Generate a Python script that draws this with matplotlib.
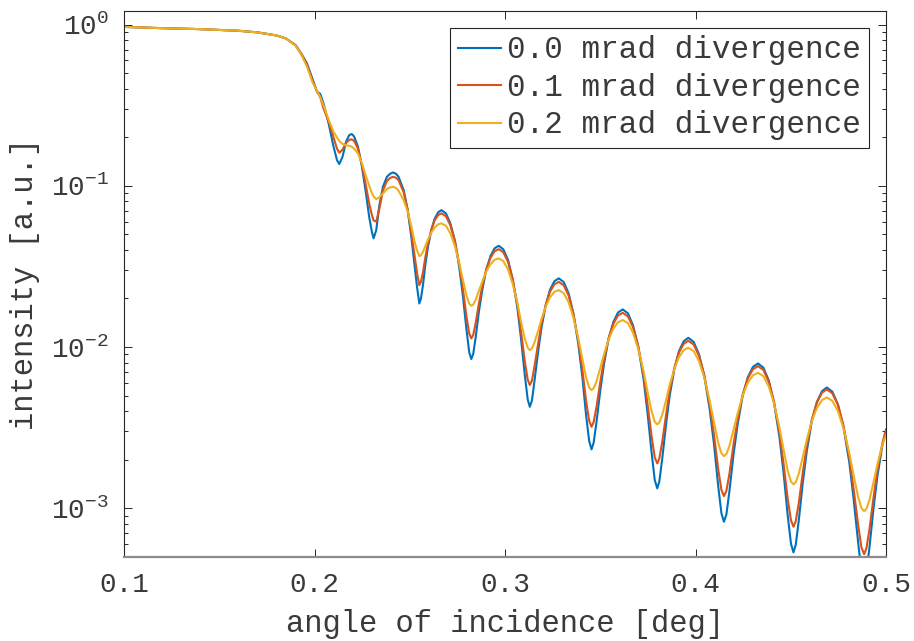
import numpy as np
import matplotlib
matplotlib.use("Agg")
import matplotlib.pyplot as plt
from matplotlib.ticker import LogLocator, FixedLocator

# angle of incidence [deg], shared by all three curves
angle = [0.100, 0.120, 0.140, 0.160, 0.170, 0.180, 0.185, 0.190, 0.193, 0.196,
         0.199, 0.2013, 0.2030, 0.2047, 0.2074, 0.2100, 0.2118, 0.2130, 0.2147, 0.2165,
         0.2182, 0.2193, 0.2202, 0.2210, 0.2228, 0.2249, 0.2270, 0.2287, 0.2301, 0.2310,
         0.2324, 0.2339, 0.2359, 0.2380, 0.2396, 0.2412, 0.2427, 0.2441, 0.2468, 0.2489,
         0.2508, 0.2526, 0.2538, 0.2550,
         0.2558, 0.2569, 0.2582, 0.2596, 0.2614, 0.2631, 0.2649, 0.2666,
         0.2690, 0.2713, 0.2737, 0.2760, 0.2779, 0.2798, 0.2812, 0.2823,
         0.2833, 0.2846, 0.2863, 0.2881, 0.2902, 0.2924, 0.2945, 0.2967,
         0.2991, 0.3016, 0.3040, 0.3065, 0.3084, 0.3104, 0.3119, 0.3130,
         0.3141, 0.3154, 0.3173, 0.3191, 0.3214, 0.3236, 0.3259, 0.3282,
         0.3308, 0.3334, 0.3359, 0.3385, 0.3406, 0.3426, 0.3442, 0.3454,
         0.3465, 0.3480, 0.3500, 0.3520, 0.3544, 0.3569, 0.3593, 0.3618,
         0.3645, 0.3672, 0.3699, 0.3727, 0.3748, 0.3770, 0.3786, 0.3799,
         0.3810, 0.3825, 0.3845, 0.3864, 0.3889, 0.3913, 0.3938, 0.3962,
         0.3990, 0.4018, 0.4046, 0.4074, 0.4097, 0.4119, 0.4136, 0.4149,
         0.4162, 0.4178, 0.4199, 0.4221, 0.4247, 0.4274, 0.4301, 0.4328,
         0.4356, 0.4384, 0.4412, 0.4440, 0.4462, 0.4484, 0.4501, 0.4514,
         0.4526, 0.4542, 0.4563, 0.4584, 0.4610, 0.4637, 0.4664, 0.4689,
         0.4718, 0.4748, 0.4777, 0.4807, 0.4830, 0.4854, 0.4871, 0.4885,
         0.4897, 0.4913, 0.4934, 0.4955, 0.4981, 0.5000]

# log10 of reflected intensity, 0.0 mrad divergence
log_i_00 = [-0.014, -0.022, -0.028, -0.038, -0.048, -0.067, -0.086, -0.127, -0.179, -0.240,
            -0.340, -0.415, -0.430, -0.489, -0.613, -0.758, -0.841, -0.865, -0.820, -0.727,
            -0.686, -0.679, -0.685, -0.700, -0.758, -0.882, -1.047, -1.194, -1.285, -1.326,
            -1.275, -1.130, -1.006, -0.944, -0.926, -0.917, -0.925, -0.944, -1.027, -1.151,
            -1.316, -1.502, -1.627, -1.730,
            -1.703, -1.618, -1.486, -1.375, -1.271, -1.203, -1.164, -1.151,
            -1.171, -1.233, -1.342, -1.508, -1.685, -1.896, -2.033, -2.075,
            -2.043, -1.939, -1.778, -1.643, -1.518, -1.435, -1.388, -1.372,
            -1.394, -1.461, -1.579, -1.758, -1.949, -2.177, -2.325, -2.371,
            -2.334, -2.216, -2.035, -1.882, -1.739, -1.645, -1.592, -1.574,
            -1.597, -1.668, -1.794, -1.984, -2.187, -2.429, -2.586, -2.635,
            -2.595, -2.467, -2.269, -2.102, -1.947, -1.844, -1.786, -1.767,
            -1.791, -1.866, -1.997, -2.196, -2.409, -2.662, -2.826, -2.877,
            -2.834, -2.696, -2.483, -2.304, -2.136, -2.026, -1.964, -1.943,
            -1.968, -2.045, -2.179, -2.383, -2.603, -2.863, -3.032, -3.084,
            -3.039, -2.894, -2.670, -2.481, -2.305, -2.189, -2.124, -2.102,
            -2.128, -2.206, -2.345, -2.554, -2.779, -3.047, -3.220, -3.274,
            -3.227, -3.076, -2.842, -2.646, -2.463, -2.342, -2.274, -2.251,
            -2.277, -2.358, -2.499, -2.714, -2.944, -3.217, -3.395, -3.450,
            -3.401, -3.244, -3.003, -2.799, -2.609, -2.516]

# log10 of reflected intensity, 0.1 mrad divergence
log_i_01 = [-0.014, -0.022, -0.028, -0.038, -0.048, -0.067, -0.086, -0.128, -0.182, -0.250,
            -0.350, -0.415, -0.450, -0.520, -0.600, -0.700, -0.770, -0.795, -0.775, -0.735,
            -0.715, -0.712, -0.716, -0.725, -0.770, -0.870, -1.000, -1.110, -1.180, -1.215,
            -1.222, -1.150, -1.030, -0.970, -0.952, -0.944, -0.950, -0.965, -1.040, -1.150,
            -1.290, -1.440, -1.540, -1.616,
            -1.598, -1.539, -1.441, -1.353, -1.269, -1.213, -1.181, -1.171,
            -1.189, -1.245, -1.343, -1.488, -1.641, -1.813, -1.916, -1.947,
            -1.925, -1.851, -1.729, -1.620, -1.515, -1.446, -1.406, -1.393,
            -1.412, -1.473, -1.579, -1.738, -1.904, -2.090, -2.202, -2.236,
            -2.210, -2.125, -1.984, -1.858, -1.737, -1.657, -1.611, -1.596,
            -1.617, -1.681, -1.795, -1.964, -2.141, -2.340, -2.459, -2.495,
            -2.467, -2.373, -2.216, -2.077, -1.944, -1.855, -1.804, -1.788,
            -1.810, -1.877, -1.994, -2.170, -2.354, -2.560, -2.685, -2.722,
            -2.692, -2.591, -2.423, -2.273, -2.130, -2.034, -1.980, -1.962,
            -1.984, -2.054, -2.175, -2.356, -2.546, -2.758, -2.887, -2.925,
            -2.893, -2.786, -2.607, -2.449, -2.297, -2.196, -2.138, -2.119,
            -2.142, -2.214, -2.339, -2.526, -2.723, -2.943, -3.075, -3.115,
            -3.081, -2.968, -2.779, -2.612, -2.451, -2.344, -2.283, -2.263,
            -2.287, -2.360, -2.489, -2.681, -2.882, -3.108, -3.244, -3.285,
            -3.250, -3.132, -2.936, -2.762, -2.596, -2.511]

# log10 of reflected intensity, 0.2 mrad divergence
log_i_02 = [-0.014, -0.022, -0.028, -0.038, -0.048, -0.067, -0.086, -0.130, -0.185, -0.260,
            -0.360, -0.410, -0.450, -0.500, -0.590, -0.665, -0.700, -0.722, -0.740, -0.748,
            -0.752, -0.756, -0.763, -0.772, -0.800, -0.860, -0.940, -1.000, -1.045, -1.065,
            -1.083, -1.072, -1.048, -1.020, -1.010, -1.006, -1.012, -1.030, -1.090, -1.160,
            -1.250, -1.350, -1.400, -1.436,
            -1.431, -1.411, -1.372, -1.332, -1.289, -1.258, -1.239, -1.233,
            -1.248, -1.295, -1.374, -1.482, -1.584, -1.682, -1.731, -1.744,
            -1.737, -1.708, -1.652, -1.593, -1.531, -1.486, -1.459, -1.450,
            -1.467, -1.519, -1.607, -1.727, -1.841, -1.950, -2.005, -2.019,
            -2.010, -1.974, -1.903, -1.828, -1.749, -1.692, -1.658, -1.647,
            -1.666, -1.723, -1.818, -1.949, -2.073, -2.191, -2.252, -2.267,
            -2.256, -2.214, -2.131, -2.044, -1.952, -1.886, -1.846, -1.833,
            -1.852, -1.912, -2.011, -2.148, -2.278, -2.401, -2.464, -2.480,
            -2.468, -2.422, -2.331, -2.236, -2.136, -2.063, -2.019, -2.005,
            -2.025, -2.087, -2.190, -2.332, -2.467, -2.595, -2.660, -2.677,
            -2.664, -2.614, -2.515, -2.412, -2.302, -2.223, -2.176, -2.160,
            -2.181, -2.244, -2.350, -2.497, -2.635, -2.768, -2.835, -2.852,
            -2.839, -2.786, -2.683, -2.576, -2.461, -2.379, -2.329, -2.313,
            -2.334, -2.399, -2.507, -2.656, -2.797, -2.932, -3.000, -3.018,
            -3.004, -2.949, -2.840, -2.727, -2.606, -2.547]

labels = ["0.0 mrad divergence", "0.1 mrad divergence", "0.2 mrad divergence"]
colors = ["#0072BD", "#D95319", "#EDB120"]

ink = "#3a3a3a"
plt.rcParams["font.family"] = "Liberation Mono"
plt.rcParams["mathtext.fontset"] = "custom"
plt.rcParams["mathtext.rm"] = "Liberation Mono"
plt.rcParams["mathtext.it"] = "Liberation Mono"
plt.rcParams["text.color"] = ink

fig = plt.figure(figsize=(9.14, 6.41), dpi=100)
ax = fig.add_axes([0.1357, 0.1315, 0.8337, 0.8518])

for logs, lab, col in zip([log_i_00, log_i_01, log_i_02], labels, colors):
    ax.plot(angle, 10 ** np.array(logs), color=col, lw=1.5, label=lab)

ax.set_yscale("log")
ax.set_xlim(0.1, 0.5)
ax.set_ylim(5e-4, 1.22)
ax.xaxis.set_major_locator(FixedLocator([0.1, 0.2, 0.3, 0.4, 0.5]))
ax.yaxis.set_major_locator(LogLocator(base=10, numticks=10))
ax.yaxis.set_minor_locator(LogLocator(base=10, subs=np.arange(2, 10), numticks=10))
ax.xaxis.set_major_formatter(plt.FuncFormatter(lambda v, p: f"{v:.1f}"))

ax.tick_params(which="both", direction="in", top=True, right=True,
               color="#262626", labelcolor=ink, width=0.7)
ax.tick_params(which="major", length=6, labelsize=20, pad=11)
ax.tick_params(which="minor", length=3)
for side in ["top", "left", "right"]:
    ax.spines[side].set_color("#262626")
    ax.spines[side].set_linewidth(0.8)
ax.spines["bottom"].set_color("#8c8c8c")
ax.spines["bottom"].set_linewidth(1.6)

ax.set_xlabel("angle of incidence [deg]", fontsize=22, color=ink, labelpad=8)
ax.set_ylabel("intensity [a.u.]", fontsize=22, color=ink, labelpad=8)

leg = ax.legend(loc="upper right", fontsize=22.3, frameon=True, fancybox=False,
                edgecolor="#262626", framealpha=1, handlelength=1.4,
                handletextpad=0.2, labelspacing=0.24, borderpad=0.25,
                borderaxespad=0.55)
leg.get_frame().set_linewidth(0.8)

fig.savefig("out.png", dpi=100)
